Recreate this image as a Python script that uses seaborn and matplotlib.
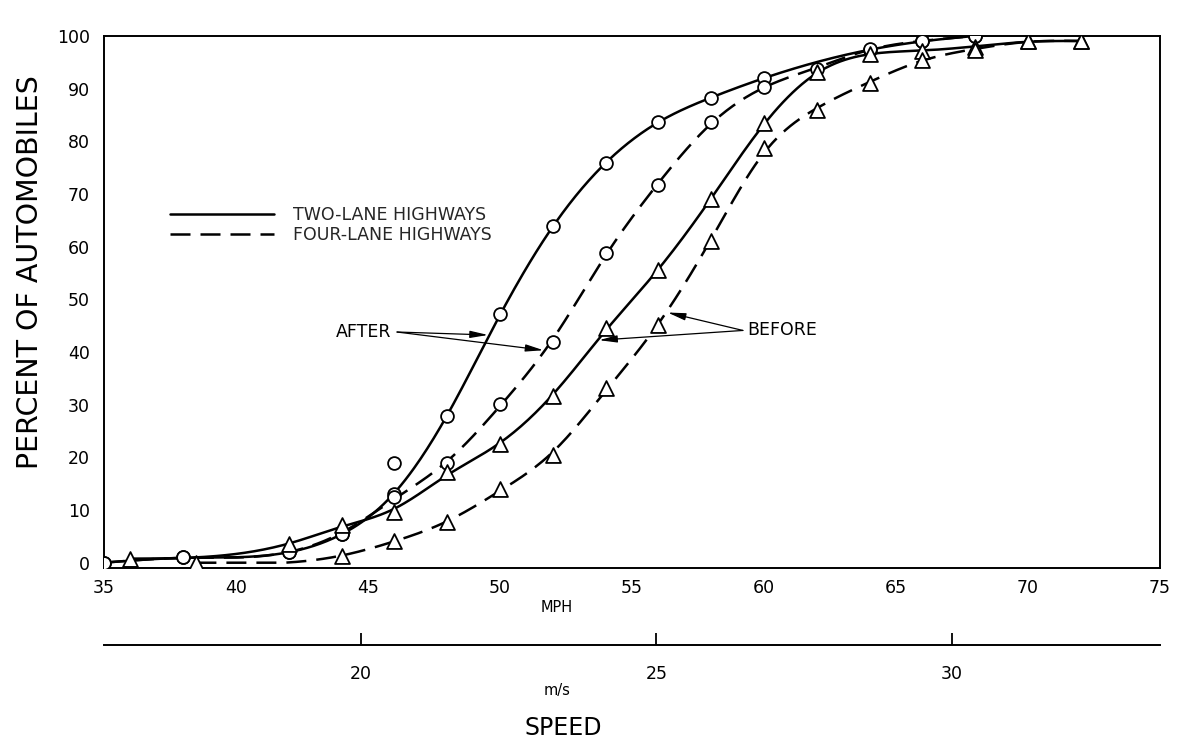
import numpy as np
import pandas as pd
import matplotlib
matplotlib.use("Agg")
import matplotlib.pyplot as plt
from matplotlib.lines import Line2D
import seaborn as sns

# ---- data: cumulative percent of automobiles at or below each speed (MPH) ----
two_after_mph = [35, 38, 42, 44, 46, 48, 50, 52, 54, 56, 58, 60, 64, 66, 68]
two_after_pct = [0, 1, 2, 5.5, 13, 27.8, 47.3, 63.9, 75.9, 83.7, 88.2, 92, 97.4, 99, 100]
# observation left off the fitted two-lane "after" curve
two_after_extra_mph = [46]
two_after_extra_pct = [19]

four_after_mph = [35, 38, 42, 44, 46, 48, 50, 52, 54, 56, 58, 60, 62, 64, 66, 68]
four_after_pct = [0, 1, 2, 5.5, 12.5, 18.9, 30.1, 41.9, 58.8, 71.8, 83.6, 90.3, 93.7, 97.6, 99, 100]

two_before_mph = [36, 42, 44, 46, 48, 50, 52, 54, 56, 58, 60, 62, 64, 66, 68, 70, 72]
two_before_pct = [0.8, 3.5, 7.2, 9.7, 17.2, 22.5, 31.7, 44.5, 55.5, 69.0, 83.4, 93.2, 96.5, 97.1, 98.0, 99, 99]

four_before_mph = [38.5, 44, 46, 48, 50, 52, 54, 56, 58, 60, 62, 64, 66, 68, 70, 72]
four_before_pct = [0, 1.3, 4.2, 7.7, 14.0, 20.5, 33.1, 45.1, 61.0, 78.7, 86.0, 91.1, 95.5, 97.4, 99, 99]

mph_ticks = [35, 40, 45, 50, 55, 60, 65, 70, 75]
pct_ticks = [0, 10, 20, 30, 40, 50, 60, 70, 80, 90, 100]
ms_ticks = [20, 25, 30]

lane_labels = ["TWO-LANE HIGHWAYS", "FOUR-LANE HIGHWAYS"]

MPH_TO_MS = 0.44704


def smooth_fit(x, y, n=400, mu=0.3):
    """Penalised least-squares (Whittaker) smooth curve through the observations."""
    x = np.asarray(x, float)
    y = np.asarray(y, float)
    xs = np.linspace(x[0], x[-1], n)
    h = xs[1] - xs[0]
    A = np.zeros((len(x), n))
    pos = (x - xs[0]) / h
    i0 = np.clip(np.floor(pos).astype(int), 0, n - 2)
    frac = pos - i0
    A[np.arange(len(x)), i0] = 1 - frac
    A[np.arange(len(x)), i0 + 1] += frac
    D = np.diff(np.eye(n), 2, axis=0)
    lam = mu / h**3
    z = np.linalg.solve(A.T @ A + lam * D.T @ D, A.T @ y)
    return xs, np.clip(z, 0, 100)


series = [
    (lane_labels[0], "AFTER", two_after_mph, two_after_pct),
    (lane_labels[1], "AFTER", four_after_mph, four_after_pct),
    (lane_labels[0], "BEFORE", two_before_mph, two_before_pct),
    (lane_labels[1], "BEFORE", four_before_mph, four_before_pct),
]

curve_frames, obs_frames = [], []
curve_fn = {}
for lanes, period, xv, yv in series:
    xs, ys = smooth_fit(xv, yv)
    curve_fn[(lanes, period)] = (xs, ys)
    curve_frames.append(pd.DataFrame({"speed": xs, "pct": ys,
                                      "lanes": lanes, "period": period}))
    obs_frames.append(pd.DataFrame({"speed": xv, "pct": yv,
                                    "lanes": lanes, "period": period}))
obs_frames.append(pd.DataFrame({"speed": two_after_extra_mph,
                                "pct": two_after_extra_pct,
                                "lanes": lane_labels[0], "period": "AFTER"}))
curves = pd.concat(curve_frames, ignore_index=True)
obs = pd.concat(obs_frames, ignore_index=True)


def on_curve(lanes, period, x):
    xs, ys = curve_fn[(lanes, period)]
    return float(np.interp(x, xs, ys))


# ---- figure ----
sns.set_theme(style="white")
plt.rcParams["font.family"] = ["DejaVu Sans"]
plt.rcParams["axes.edgecolor"] = "black"

fig = plt.figure(figsize=(11.79, 7.52), dpi=100)
ax = fig.add_axes([104 / 1179, 1 - 568 / 752, (1160 - 104) / 1179, (568 - 36) / 752])

dash_map = {lane_labels[0]: "", lane_labels[1]: (8, 4)}
sns.lineplot(data=curves, x="speed", y="pct", style="lanes", units="period",
             estimator=None, sort=False, dashes=dash_map, color="black",
             linewidth=1.8, legend=False, ax=ax, zorder=2)

sns.scatterplot(data=obs[obs["period"] == "AFTER"], x="speed", y="pct",
                marker="o", s=85, color="white", edgecolor="black",
                linewidth=1.3, legend=False, ax=ax, zorder=3)
sns.scatterplot(data=obs[obs["period"] == "BEFORE"], x="speed", y="pct",
                marker="^", s=115, color="white", edgecolor="black",
                linewidth=1.3, legend=False, ax=ax, zorder=3)

ax.set_xlim(35, 75)
ax.set_ylim(-1, 100)
ax.set_xticks(mph_ticks)
ax.set_yticks(pct_ticks)
ax.set_xlabel("")
ax.set_ylabel("")
for side in ["left", "right", "top", "bottom"]:
    ax.spines[side].set_visible(True)
    ax.spines[side].set_linewidth(1.4)
    ax.spines[side].set_color("black")
ax.tick_params(axis="both", direction="in", length=8, width=1.3,
               labelsize=12.5, colors="black")
ax.tick_params(axis="x", pad=8)
ax.tick_params(axis="y", pad=10)

# metric speed scale below the MPH scale
sec = ax.secondary_xaxis(-0.145, functions=(lambda v: v * MPH_TO_MS,
                                             lambda v: v / MPH_TO_MS))
sec.set_xticks(ms_ticks)
sec.spines["bottom"].set_linewidth(1.4)
sec.spines["bottom"].set_color("black")
sec.tick_params(axis="x", direction="in", length=9, width=1.3,
                labelsize=12.5, pad=14, colors="black")

# legend
handles = [Line2D([], [], color="black", lw=1.8),
           Line2D([], [], color="black", lw=1.8, dashes=(8, 4))]
ax.legend(handles, lane_labels, loc="upper left",
          bbox_to_anchor=(37.5, 67.8), bbox_transform=ax.transData,
          frameon=False, fontsize=12.5, handlelength=6.0, handletextpad=1.1,
          labelspacing=0.15, borderpad=0, borderaxespad=0)

# period call-outs
arrow_kw = dict(arrowstyle="-|>,head_length=0.9,head_width=0.18",
                color="black", lw=0.9, shrinkA=0, shrinkB=1)
ax.text(45.9, 43.8, "AFTER", ha="right", va="center", fontsize=12.5,
        color="black")
for lanes, xh in [(lane_labels[0], 49.6), (lane_labels[1], 51.7)]:
    ax.annotate("", xy=(xh, on_curve(lanes, "AFTER", xh)), xytext=(46.1, 43.8),
                arrowprops=arrow_kw)

ax.text(59.35, 44.1, "BEFORE", ha="left", va="center", fontsize=12.5,
        color="black")
for lanes, xh in [(lane_labels[1], 56.3), (lane_labels[0], 53.7)]:
    ax.annotate("", xy=(xh, on_curve(lanes, "BEFORE", xh)), xytext=(59.2, 44.1),
                arrowprops=arrow_kw)

# axis titles
fig.text(30 / 1179, 1 - 272 / 752, "PERCENT OF AUTOMOBILES", rotation=90,
         ha="center", va="center", fontsize=20.5, color="black")
fig.text(557 / 1179, 1 - 608 / 752, "MPH", ha="center", va="center",
         fontsize=10.5, color="black")
fig.text(557 / 1179, 1 - 690 / 752, "m/s", ha="center", va="center",
         fontsize=10.5, color="black")
fig.text(563 / 1179, 1 - 728 / 752, "SPEED", ha="center", va="center",
         fontsize=17, color="black")

fig.savefig("out.png", dpi=100, facecolor="white")
